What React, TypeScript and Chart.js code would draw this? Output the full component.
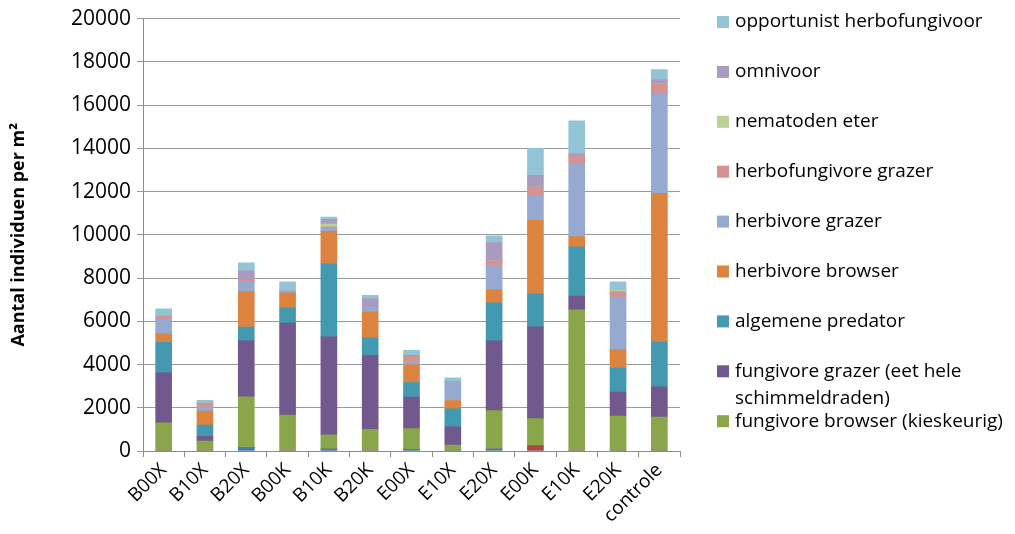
import React, { useEffect, useRef } from "react";
import { Chart, registerables } from "chart.js";

Chart.register(...registerables);

const categories = ["B00X", "B10X", "B20X", "B00K", "B10K", "B20K", "E00X", "E10X", "E20X", "E00K", "E10K", "E20K", "controle"];

// two small bottom series that are not shown in the (cut-off) legend
const extraBlue = [0, 0, 170, 0, 93, 0, 62, 0, 93, 0, 0, 0, 0];
const extraRed = [0, 0, 0, 0, 0, 0, 0, 0, 0, 247, 0, 0, 0];
const fungivoreBrowser = [1300, 460, 2330, 1667, 650, 1003, 970, 278, 1775, 1250, 6528, 1620, 1574];
const fungivoreGrazer = [2310, 220, 2600, 4245, 4540, 3410, 1465, 835, 3225, 4245, 635, 1110, 1390];
const algemenePredator = [1420, 520, 635, 710, 3380, 835, 665, 835, 1760, 1545, 2285, 1110, 2070];
const herbivoreBrowser = [385, 650, 1635, 695, 1495, 1205, 835, 385, 600, 3380, 465, 835, 6880];
const herbivoreGrazer = [650, 180, 465, 50, 155, 185, 155, 835, 1125, 1110, 3365, 2440, 4600];
const herbofungivoreGrazer = [185, 190, 60, 0, 60, 0, 230, 60, 215, 435, 355, 260, 465];
const nematodenEter = [0, 0, 0, 0, 125, 0, 0, 0, 0, 0, 0, 75, 0];
const omnivoor = [0, 0, 435, 40, 215, 415, 45, 0, 850, 535, 110, 0, 200];
const opportunist = [325, 125, 370, 415, 110, 150, 230, 155, 310, 1250, 1530, 370, 465];

const yMin = 0;
const yMax = 20000;
const yStep = 2000;

const seriesLabels = [
  "reeks 1",
  "reeks 2",
  "fungivore browser (kieskeurig)",
  "fungivore grazer (eet hele schimmeldraden)",
  "algemene predator",
  "herbivore browser",
  "herbivore grazer",
  "herbofungivore grazer",
  "nematoden eter",
  "omnivoor",
  "opportunist herbofungivoor",
];
const seriesInLegend = [false, false, true, true, true, true, true, true, true, true, true];
const legendLines: Record<string, string[]> = {
  "fungivore grazer (eet hele schimmeldraden)": ["fungivore grazer (eet hele", "schimmeldraden)"],
};
const seriesColors = [
  "#4A78AF",
  "#B0463F",
  "#8AA64B",
  "#71598E",
  "#4299B0",
  "#DC843F",
  "#95A9D1",
  "#D49292",
  "#BBD19A",
  "#A99BBF",
  "#93C4D5",
];
const seriesValues = [
  extraBlue,
  extraRed,
  fungivoreBrowser,
  fungivoreGrazer,
  algemenePredator,
  herbivoreBrowser,
  herbivoreGrazer,
  herbofungivoreGrazer,
  nematodenEter,
  omnivoor,
  opportunist,
];

const FONT = '"Open Sans", "Liberation Sans", sans-serif';

const sideLegend = {
  id: "sideLegend",
  afterDraw(chart: any) {
    const ctx = chart.ctx as CanvasRenderingContext2D;
    ctx.save();
    ctx.font = `19px ${FONT}`;
    ctx.textBaseline = "middle";
    ctx.textAlign = "left";
    const items = chart.data.datasets
      .map((ds: any, i: number) => ({ ds, i }))
      .filter((o: any) => seriesInLegend[o.i])
      .reverse();
    items.forEach((o: any, k: number) => {
      const y = 22 + k * 49.9;
      ctx.fillStyle = o.ds.backgroundColor;
      ctx.fillRect(717, y - 6, 12, 12);
      ctx.fillStyle = "#000000";
      const lines = legendLines[o.ds.label] || [o.ds.label];
      lines.forEach((line: string, j: number) => ctx.fillText(line, 735, y + j * 27));
    });
    ctx.restore();
  },
};

export default function App() {
  const canvasRef = useRef<HTMLCanvasElement | null>(null);

  useEffect(() => {
    if (!canvasRef.current) return;
    const chart = new Chart(canvasRef.current, {
      type: "bar",
      data: {
        labels: categories,
        datasets: seriesValues.map((vals, i) => ({
          label: seriesLabels[i],
          data: vals,
          backgroundColor: seriesColors[i],
          borderWidth: 0,
          barThickness: 16,
        })),
      },
      options: {
        animation: false,
        responsive: true,
        maintainAspectRatio: false,
        layout: { padding: { left: 0, right: 335, top: 0, bottom: 0 } },
        plugins: {
          legend: { display: false },
          tooltip: { enabled: false },
        },
        scales: {
          x: {
            stacked: true,
            grid: {
              display: true,
              drawOnChartArea: false,
              drawTicks: true,
              tickLength: 6,
              color: "#8C8C8C",
              offset: true,
            },
            border: { display: true, color: "#8C8C8C", width: 1 },
            ticks: {
              autoSkip: false,
              maxRotation: 45,
              minRotation: 45,
              color: "#000000",
              padding: 2,
              font: { family: FONT, size: 19 },
            },
            afterFit: (scale: any) => {
              scale.height = 83;
            },
          },
          y: {
            stacked: true,
            min: yMin,
            max: yMax,
            ticks: {
              stepSize: yStep,
              color: "#000000",
              padding: 6,
              font: { family: FONT, size: 21 },
              callback: (value: any) => String(value),
            },
            grid: {
              color: "#9A9A9A",
              tickLength: 6,
              drawTicks: true,
            },
            border: { display: true, color: "#8C8C8C", width: 1 },
            title: {
              display: true,
              text: "Aantal individuen per m²",
              color: "#000000",
              font: { family: FONT, size: 18, weight: "bold" },
              padding: { top: 8, bottom: 0 },
            },
            afterFit: (scale: any) => {
              scale.width = 143;
            },
          },
        },
      },
      plugins: [sideLegend],
    });
    return () => chart.destroy();
  }, []);

  return (
    <div style={{ position: "absolute", left: 0, top: 0, width: 1015, height: 534, background: "#ffffff" }}>
      <canvas ref={canvasRef} />
    </div>
  );
}
